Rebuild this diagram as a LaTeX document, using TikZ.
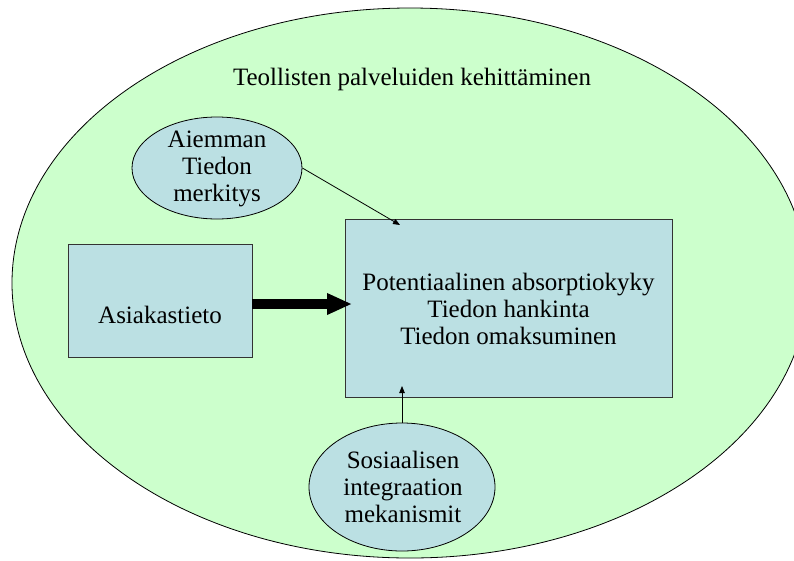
\documentclass[tikz,border=0pt]{standalone}
\usepackage{fontspec}
\setmainfont{Liberation Serif}
\usetikzlibrary{arrows.meta,shapes.geometric}
\definecolor{bggreen}{HTML}{CCFFCC}
\definecolor{shapeblue}{HTML}{BBE0E3}
\begin{document}
\begin{tikzpicture}[x=1pt,y=-1pt,
  txt/.style={font=\fontsize{25}{27}\selectfont, align=center, inner sep=0pt},
  oval/.style={ellipse, draw=black, line width=0.8pt, fill=shapeblue, inner sep=0pt},
  boxshape/.style={rectangle, draw=black!80, line width=0.8pt, fill=shapeblue, inner sep=0pt},
  thinarrow/.style={-{Triangle[length=7pt,width=5.5pt]}, line width=0.8pt},
  thickarrow/.style={-{Triangle[length=25pt,width=20pt]}, line width=10pt}]
\useasboundingbox (0,0) rectangle (794,560);
\clip (0,0) rectangle (794,560);
\node[ellipse, draw=black, line width=0.8pt, fill=bggreen, minimum width=796, minimum height=550, inner sep=0pt] (outer) at (410,283) {};
\node[txt, anchor=base] (title) at (412,85) {Teollisten palveluiden kehittäminen};
% shapes
\node[boxshape, minimum width=327, minimum height=178] (pot) at (508.5,308) {};
\node[txt] (pottext) at (508.5,308.5) {Potentiaalinen absorptiokyky\\Tiedon hankinta\\Tiedon omaksuminen};
\node[boxshape, minimum width=184, minimum height=113] (asia) at (160,300.5) {};
\node[txt, anchor=base] (asiatext) at (160,323) {Asiakastieto};
\node[oval, minimum width=170, minimum height=102] (aiem) at (217,168) {};
\node[txt] (aiemtext) at (217,168.5) {Aiemman\\Tiedon\\merkitys};
\node[oval, minimum width=186, minimum height=128] (sos) at (402,487) {};
\node[txt] (sostext) at (403,486.5) {Sosiaalisen\\integraation\\mekanismit};
% connectors
\coordinate (tipA) at (400,225);
\draw[thinarrow] (aiem.east) -- (tipA);
\coordinate (tipB) at (402,386);
\draw[thinarrow] (sos.north) -- (tipB);
\coordinate (tipC) at (352,304);
\draw[thickarrow] (asia.east |- tipC) -- (tipC);
\end{tikzpicture}
\end{document}
